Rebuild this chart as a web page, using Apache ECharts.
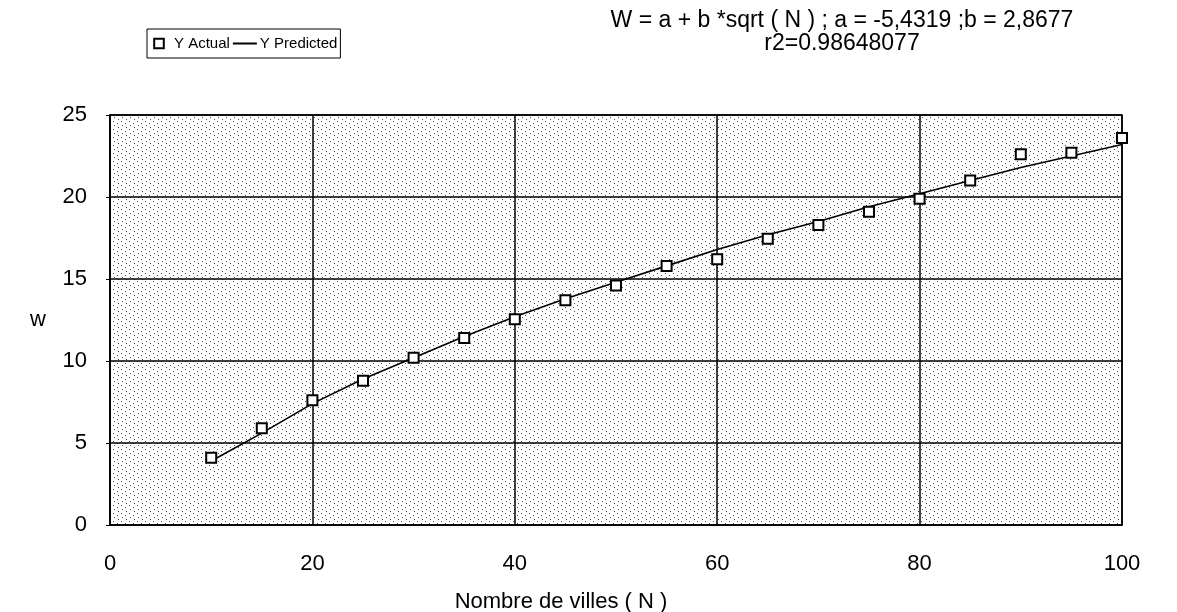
<!DOCTYPE html>
<html>
<head>
<meta charset="utf-8">
<title>W vs N</title>
<script src="https://cdn.jsdelivr.net/npm/echarts@6/dist/echarts.min.js"></script>
<style>
  html, body { margin: 0; padding: 0; background: #fff; }
  #chart { width: 1177px; height: 612px; }
</style>
</head>
<body>
<div id="chart"></div>
<script>
// number of cities N
const nValues = [10, 15, 20, 25, 30, 35, 40, 45, 50, 55, 60, 65, 70, 75, 80, 85, 90, 95, 100];
// measured W (squares)
const wActual = [4.1, 5.9, 7.6, 8.8, 10.2, 11.4, 12.55, 13.7, 14.6, 15.8, 16.2, 17.45, 18.3, 19.1, 19.9, 21.0, 22.6, 22.7, 23.6];
// fitted W (line)
const wPredicted = [3.9, 5.6, 7.4, 8.9, 10.2, 11.5, 12.7, 13.8, 14.8, 15.8, 16.8, 17.7, 18.5, 19.4, 20.2, 21.0, 21.8, 22.5, 23.2];
const xTicks = [0, 20, 40, 60, 80, 100];
const yTicks = [0, 5, 10, 15, 20, 25];

const FONT = "'Liberation Sans', Arial, sans-serif";

// halftone-like background for the plot area
function makeStipple() {
  const c = document.createElement("canvas");
  c.width = 8;
  c.height = 8;
  const ctx = c.getContext("2d");
  ctx.fillStyle = "#ffffff";
  ctx.fillRect(0, 0, 8, 8);
  ctx.fillStyle = "#555555";
  const dots = [[1, 1], [5, 3], [2, 5], [6, 7]];
  dots.forEach(d => ctx.fillRect(d[0], d[1], 1, 1));
  return c;
}

const pair = (xs, ys) => xs.map((x, i) => [x, ys[i]]);

const chart = echarts.init(document.getElementById("chart"));

chart.setOption({
  animation: false,
  backgroundColor: "#fff",
  textStyle: { fontFamily: FONT, color: "#000" },
  title: {
    text: "W = a + b *sqrt ( N ) ; a = -5,4319 ;b = 2,8677\nr2=0.98648077",
    left: 837,
    top: 4,
    textAlign: "center",
    textStyle: {
      fontFamily: FONT,
      fontSize: 23,
      fontWeight: "normal",
      color: "#000",
      lineHeight: 23
    }
  },
  legend: {
    left: 147,
    top: 29,
    orient: "horizontal",
    padding: [7, 3, 7, 0],
    borderColor: "#000",
    borderWidth: 1,
    itemWidth: 24,
    itemHeight: 12,
    itemGap: 2,
    textStyle: { fontFamily: FONT, fontSize: 15, color: "#000", padding: [0, 0, 0, -2] },
    data: [
      { name: "Y Actual", lineStyle: { opacity: 0 } },
      { name: "Y Predicted", itemStyle: { opacity: 0 } }
    ]
  },
  grid: {
    show: true,
    left: 110,
    right: 55,
    top: 115,
    bottom: 87,
    outerBoundsMode: "none",
    borderColor: "#000",
    borderWidth: 1.5,
    backgroundColor: { image: makeStipple(), repeat: "repeat" }
  },
  xAxis: {
    type: "value",
    min: 0,
    max: 100,
    interval: 20,
    axisLine: { show: true, lineStyle: { color: "#000", width: 1.5 } },
    axisTick: { show: false },
    splitLine: { show: true, lineStyle: { color: "#000", width: 1.5 } },
    axisLabel: {
      margin: 28,
      fontSize: 22,
      color: "#000",
      fontFamily: FONT,
      formatter: v => (xTicks.indexOf(v) >= 0 ? String(v) : "")
    },
    name: "Nombre de villes ( N )",
    nameLocation: "middle",
    nameGap: 66,
    nameTextStyle: { fontSize: 22, color: "#000", fontFamily: FONT, padding: [0, 110, 0, 0] }
  },
  yAxis: {
    type: "value",
    min: 0,
    max: 25,
    interval: 5,
    axisLine: { show: true, lineStyle: { color: "#000", width: 1.5 } },
    axisTick: { show: true, length: 4, lineStyle: { color: "#000" } },
    splitLine: { show: true, lineStyle: { color: "#000", width: 1.5 } },
    axisLabel: {
      margin: 23,
      fontSize: 22,
      color: "#000",
      fontFamily: FONT,
      formatter: v => (yTicks.indexOf(v) >= 0 ? String(v) : "")
    },
    name: "w",
    nameLocation: "middle",
    nameRotate: 0,
    nameGap: 64,
    nameTextStyle: { fontSize: 22, color: "#000", fontFamily: FONT }
  },
  series: [
    {
      name: "Y Predicted",
      type: "line",
      data: pair(nValues, wPredicted),
      symbol: "none",
      lineStyle: { color: "#000", width: 1.6 },
      itemStyle: { color: "#000" },
      z: 3
    },
    {
      name: "Y Actual",
      type: "line",
      data: pair(nValues, wActual),
      symbol: "emptyRect",
      symbolSize: 10,
      showSymbol: true,
      lineStyle: { opacity: 0, width: 0 },
      itemStyle: { color: "#000", borderWidth: 1.5 },
      z: 4
    }
  ]
});
</script>
</body>
</html>
